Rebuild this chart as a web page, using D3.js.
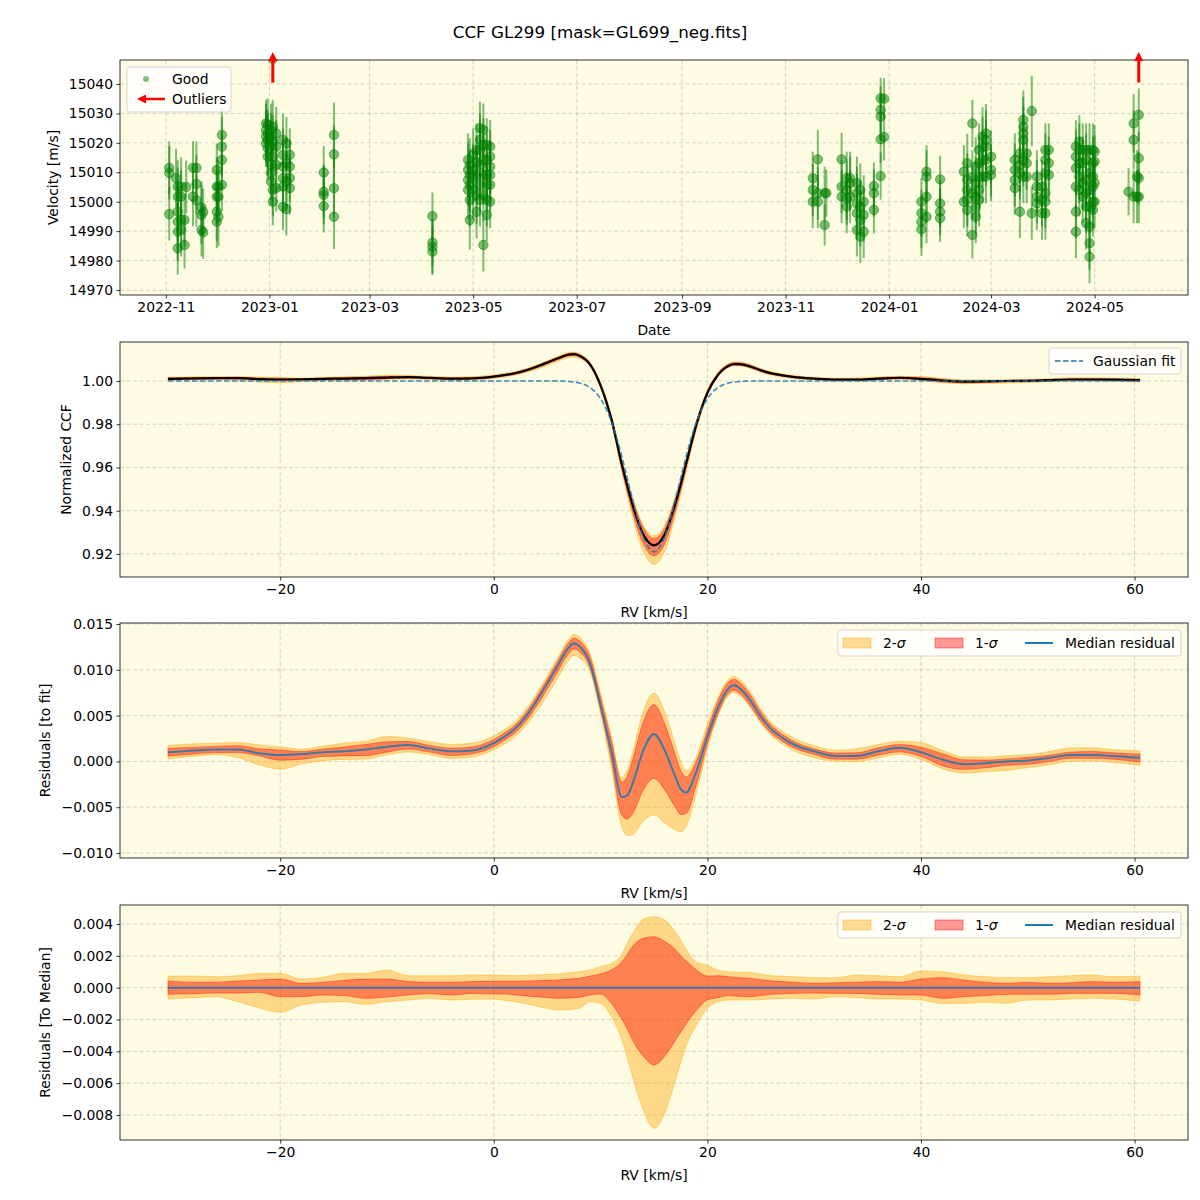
<!DOCTYPE html>
<html lang="en">
<head>
<meta charset="UTF-8">
<title>CCF GL299</title>
<script src="https://d3js.org/d3.v7.min.js"></script>
<style>
    html, body { margin: 0; background: #fff; }
    svg { font-family: "DejaVu Sans", sans-serif; }
</style>
</head>
<body>
<svg id="svg" width="1200" height="1200"></svg>
<script>
// ---- data ----
// RV time series: [date, velocity m/s, error m/s]
const goodPoints = [
    ["2022-11-03", 15011.5, 9], ["2022-11-03", 15009.8, 9], ["2022-11-03", 14995.8, 9],
    ["2022-11-07", 15008.0, 10],
    ["2022-11-08", 15005.1, 9], ["2022-11-08", 15001.7, 10], ["2022-11-08", 14996.6, 10], ["2022-11-08", 14993.2, 11], ["2022-11-08", 14989.8, 10], ["2022-11-08", 14984.2, 9],
    ["2022-11-10", 15005.1, 10], ["2022-11-10", 15001.7, 9], ["2022-11-10", 14993.8, 10], ["2022-11-10", 14990.4, 9],
    ["2022-11-12", 14993.8, 9], ["2022-11-12", 14985.3, 8], ["2022-11-13", 15005.0, 9],
    ["2022-11-17", 15011.5, 9], ["2022-11-17", 15001.7, 10], ["2022-11-19", 15011.5, 9], ["2022-11-19", 15006.0, 10], ["2022-11-19", 15000.5, 9],
    ["2022-11-22", 14998.0, 9], ["2022-11-22", 14995.5, 10], ["2022-11-22", 14990.4, 9], ["2022-11-23", 14989.6, 9], ["2022-11-23", 14996.5, 8],
    ["2022-12-01", 15010.8, 9], ["2022-12-01", 15005.1, 10], ["2022-12-01", 15001.7, 9], ["2022-12-01", 14996.6, 10], ["2022-12-01", 14993.2, 9],
    ["2022-12-02", 15005.0, 9], ["2022-12-02", 15001.7, 9], ["2022-12-02", 14994.9, 10],
    ["2022-12-04", 15022.7, 9], ["2022-12-04", 15018.7, 10], ["2022-12-04", 15014.2, 9], ["2022-12-04", 15005.7, 9],
    ["2022-12-30", 15026.6, 8], ["2022-12-30", 15024.4, 9], ["2022-12-30", 15022.1, 9], ["2022-12-30", 15019.8, 8],
    ["2022-12-31", 15026.1, 9], ["2022-12-31", 15023.2, 8], ["2022-12-31", 15021.0, 9], ["2022-12-31", 15018.2, 9], ["2022-12-31", 15015.3, 8],
    ["2023-01-02", 15024.4, 9], ["2023-01-02", 15022.1, 8], ["2023-01-02", 15018.7, 9], ["2023-01-02", 15012.5, 9], ["2023-01-02", 15009.7, 9], ["2023-01-02", 15006.8, 8],
    ["2023-01-03", 15025.5, 9], ["2023-01-03", 15020.4, 9], ["2023-01-03", 15015.3, 8], ["2023-01-03", 15004.0, 9], ["2023-01-03", 15000.0, 8], ["2023-01-03", 15048.5, 8],
    ["2023-01-05", 15023.2, 9], ["2023-01-05", 15018.7, 9], ["2023-01-05", 15012.5, 9], ["2023-01-05", 15004.6, 8],
    ["2023-01-09", 15021.0, 9], ["2023-01-09", 15015.9, 9], ["2023-01-09", 15011.9, 8], ["2023-01-09", 15008.0, 9], ["2023-01-09", 15005.1, 9], ["2023-01-09", 14998.3, 8],
    ["2023-01-11", 15019.8, 9], ["2023-01-11", 15013.0, 9], ["2023-01-11", 15007.0, 9], ["2023-01-11", 14997.5, 9],
    ["2023-01-13", 15015.9, 9], ["2023-01-13", 15011.9, 9], ["2023-01-13", 15008.0, 8], ["2023-01-13", 15004.6, 9],
    ["2023-02-02", 15009.9, 9], ["2023-02-02", 15003.4, 9], ["2023-02-02", 15002.3, 10], ["2023-02-02", 14998.5, 9],
    ["2023-02-08", 15022.7, 11], ["2023-02-08", 15016.1, 10], ["2023-02-08", 15004.6, 10], ["2023-02-08", 14994.9, 11],
    ["2023-04-07", 14995.1, 8], ["2023-04-07", 14986.1, 8], ["2023-04-07", 14984.7, 9], ["2023-04-07", 14983.0, 8],
    ["2023-04-28", 15014.2, 9], ["2023-04-28", 15010.8, 9], ["2023-04-28", 15007.4, 9], ["2023-04-28", 15004.0, 10],
    ["2023-04-29", 15012.5, 9], ["2023-04-29", 15009.1, 9], ["2023-04-29", 15005.7, 9], ["2023-04-29", 15000.6, 9], ["2023-04-29", 14993.8, 10],
    ["2023-05-01", 15015.9, 9], ["2023-05-01", 15010.8, 9], ["2023-05-01", 15008.0, 9], ["2023-05-01", 15004.0, 10],
    ["2023-05-03", 15017.6, 9], ["2023-05-03", 15013.5, 9], ["2023-05-03", 15009.1, 9], ["2023-05-03", 15002.3, 10], ["2023-05-03", 14996.5, 9],
    ["2023-05-05", 15025.0, 9], ["2023-05-05", 15021.0, 9], ["2023-05-05", 15017.6, 10], ["2023-05-05", 15012.5, 9], ["2023-05-05", 15005.7, 9], ["2023-05-05", 15000.6, 9],
    ["2023-05-07", 15024.4, 9], ["2023-05-07", 15019.3, 9], ["2023-05-07", 15014.2, 9], ["2023-05-07", 15009.1, 10], ["2023-05-07", 15002.3, 9], ["2023-05-07", 14985.3, 9],
    ["2023-05-09", 15019.3, 9], ["2023-05-09", 15014.2, 9], ["2023-05-09", 15009.1, 9], ["2023-05-09", 15005.7, 9], ["2023-05-09", 15000.6, 9], ["2023-05-09", 14995.5, 9],
    ["2023-05-11", 15018.7, 9], ["2023-05-11", 15015.3, 9], ["2023-05-11", 15011.9, 9], ["2023-05-11", 15009.1, 9], ["2023-05-11", 15005.7, 9], ["2023-05-11", 15000.0, 9],
    ["2023-11-17", 15008.0, 9], ["2023-11-17", 15004.0, 9], ["2023-11-17", 15000.0, 9],
    ["2023-11-20", 15014.4, 10], ["2023-11-20", 15002.9, 9], ["2023-11-20", 15000.0, 9],
    ["2023-11-24", 15002.9, 9], ["2023-11-24", 14992.1, 7], ["2023-11-25", 15002.9, 8],
    ["2023-12-04", 15014.4, 9], ["2023-12-04", 15005.1, 9], ["2023-12-04", 15001.7, 9],
    ["2023-12-07", 15008.0, 9], ["2023-12-07", 15004.0, 10], ["2023-12-07", 15001.2, 9], ["2023-12-07", 14998.3, 9],
    ["2023-12-09", 15008.0, 9], ["2023-12-09", 15006.3, 9], ["2023-12-09", 15001.7, 9],
    ["2023-12-13", 15006.3, 9], ["2023-12-13", 15002.9, 9], ["2023-12-13", 14999.4, 10], ["2023-12-13", 14996.1, 9], ["2023-12-13", 14990.4, 9],
    ["2023-12-15", 15004.0, 9], ["2023-12-15", 14998.3, 9], ["2023-12-15", 14993.8, 9], ["2023-12-15", 14988.1, 9],
    ["2023-12-17", 15000.0, 9], ["2023-12-17", 14995.5, 9], ["2023-12-17", 14989.8, 9],
    ["2023-12-23", 15005.3, 8], ["2023-12-23", 15002.9, 8], ["2023-12-23", 14997.2, 8],
    ["2023-12-27", 15035.1, 7], ["2023-12-27", 15031.2, 8], ["2023-12-27", 15028.9, 8], ["2023-12-27", 15021.2, 8], ["2023-12-27", 15008.7, 8],
    ["2023-12-29", 15035.0, 7], ["2023-12-29", 15022.0, 8],
    ["2024-01-20", 15000.0, 8], ["2024-01-20", 14996.1, 8], ["2024-01-20", 14993.2, 9], ["2024-01-20", 14990.6, 9],
    ["2024-01-23", 15010.2, 9], ["2024-01-23", 15008.5, 9], ["2024-01-23", 15001.7, 9], ["2024-01-23", 14994.9, 9],
    ["2024-01-31", 15007.6, 8], ["2024-01-31", 14999.4, 8], ["2024-01-31", 14996.6, 8], ["2024-01-31", 14994.4, 8],
    ["2024-02-14", 15010.2, 9], ["2024-02-14", 15000.0, 9],
    ["2024-02-16", 15013.1, 10], ["2024-02-16", 15007.4, 9], ["2024-02-16", 15004.0, 9], ["2024-02-16", 15000.6, 9], ["2024-02-16", 14997.2, 9],
    ["2024-02-19", 15026.6, 8], ["2024-02-19", 15008.5, 9], ["2024-02-19", 15002.9, 9], ["2024-02-19", 14988.7, 8],
    ["2024-02-21", 15011.9, 10], ["2024-02-21", 15006.3, 9], ["2024-02-21", 15001.7, 9], ["2024-02-21", 14998.3, 9], ["2024-02-21", 14994.9, 9],
    ["2024-02-23", 15017.6, 9], ["2024-02-23", 15013.1, 9], ["2024-02-23", 15008.5, 9], ["2024-02-23", 15004.0, 9], ["2024-02-23", 15000.6, 9],
    ["2024-02-25", 15022.1, 10], ["2024-02-25", 15018.7, 10], ["2024-02-25", 15014.2, 9], ["2024-02-25", 15008.5, 9],
    ["2024-02-27", 15023.2, 10], ["2024-02-27", 15021.0, 10], ["2024-02-27", 15018.7, 9], ["2024-02-27", 15014.2, 9], ["2024-02-27", 15008.5, 9],
    ["2024-03-01", 15015.3, 9], ["2024-03-01", 15010.8, 9], ["2024-03-01", 15009.1, 9],
    ["2024-03-15", 15014.2, 9], ["2024-03-15", 15010.8, 9], ["2024-03-15", 15007.4, 9], ["2024-03-15", 15004.6, 9],
    ["2024-03-18", 15016.4, 10], ["2024-03-18", 15012.5, 9], ["2024-03-18", 15009.7, 9], ["2024-03-18", 14996.6, 9],
    ["2024-03-20", 15027.8, 10], ["2024-03-20", 15025.5, 10], ["2024-03-20", 15023.2, 9], ["2024-03-20", 15021.0, 9], ["2024-03-20", 15014.2, 9], ["2024-03-20", 15008.5, 9],
    ["2024-03-22", 15016.4, 9], ["2024-03-22", 15013.1, 9], ["2024-03-22", 15008.5, 9],
    ["2024-03-25", 15030.8, 12], ["2024-03-25", 14996.1, 9],
    ["2024-03-28", 15008.5, 9], ["2024-03-28", 15005.1, 9], ["2024-03-28", 15001.7, 9], ["2024-03-28", 14999.4, 9],
    ["2024-03-31", 15005.1, 9], ["2024-03-31", 15000.6, 9], ["2024-03-31", 14996.1, 9],
    ["2024-04-02", 15017.6, 9], ["2024-04-02", 15014.2, 9], ["2024-04-02", 15009.7, 9], ["2024-04-02", 15002.9, 9], ["2024-04-02", 15000.0, 9], ["2024-04-02", 14996.1, 9],
    ["2024-04-04", 15017.6, 9], ["2024-04-04", 15013.1, 9], ["2024-04-04", 15009.1, 9],
    ["2024-04-20", 15018.7, 9], ["2024-04-20", 15015.3, 9], ["2024-04-20", 15011.4, 9], ["2024-04-20", 15005.1, 9], ["2024-04-20", 14996.6, 9], ["2024-04-20", 14989.8, 9],
    ["2024-04-22", 15020.4, 9], ["2024-04-22", 15017.6, 9], ["2024-04-22", 15013.1, 9], ["2024-04-22", 15008.5, 9], ["2024-04-22", 15004.0, 9],
    ["2024-04-24", 15017.6, 9], ["2024-04-24", 15013.1, 9], ["2024-04-24", 15006.3, 9], ["2024-04-24", 15001.7, 9],
    ["2024-04-26", 15017.6, 9], ["2024-04-26", 15014.2, 9], ["2024-04-26", 15007.4, 9], ["2024-04-26", 15002.9, 9], ["2024-04-26", 14998.3, 9], ["2024-04-26", 14992.7, 9],
    ["2024-04-28", 15017.6, 9], ["2024-04-28", 15009.7, 9], ["2024-04-28", 15004.0, 9], ["2024-04-28", 14998.3, 9], ["2024-04-28", 14991.5, 9], ["2024-04-28", 14985.9, 9], ["2024-04-28", 14981.3, 9],
    ["2024-04-30", 15017.6, 9], ["2024-04-30", 15013.1, 9], ["2024-04-30", 15008.5, 9], ["2024-04-30", 15005.1, 9], ["2024-04-30", 15000.0, 9], ["2024-04-30", 14997.2, 9],
    ["2024-05-01", 15017.0, 9], ["2024-05-01", 15013.6, 9], ["2024-05-01", 15006.3, 9], ["2024-05-01", 15000.0, 9],
    ["2024-05-21", 15003.4, 8],
    ["2024-05-24", 15026.6, 10], ["2024-05-24", 15021.0, 10], ["2024-05-24", 15001.7, 9],
    ["2024-05-26", 15008.5, 9], ["2024-05-26", 15001.7, 9],
    ["2024-05-27", 15029.5, 9], ["2024-05-27", 15014.8, 9], ["2024-05-27", 15008.0, 9], ["2024-05-27", 15001.7, 9]
];
const outlierDates = ["2023-01-03", "2024-05-27"];
const dateTicks = ["2022-11", "2023-01", "2023-03", "2023-05", "2023-07", "2023-09",
                   "2023-11", "2024-01", "2024-03", "2024-05"];

// CCF profile grid (km/s)
const rv = [-30.5, -28, -26, -24, -22, -20, -18, -16, -14, -12, -10, -8, -6, -4, -2, 0,
    1, 2, 3, 4, 5, 6, 7, 7.5, 8, 9, 10, 11, 12, 12.5, 13, 14, 15, 16, 17, 17.5, 18, 19, 20,
    21, 22, 22.5, 23, 24, 25, 26, 27, 28, 30, 32, 34, 36, 38, 40, 42, 44, 46, 48, 50, 52,
    54, 56, 58, 60.5];
// gaussian fit to the CCF
const gaussFit = [1, 1, 1, 1, 1, 1, 1, 1, 1, 1, 1, 1, 1, 1, 1, 1,
    1, 1, 1, 1, 1, 1, 0.9998, 0.9995, 0.9991, 0.9970, 0.9918, 0.9814, 0.9650, 0.9551, 0.9450,
    0.9278, 0.9210, 0.9278, 0.9450, 0.9551, 0.9650, 0.9814, 0.9918, 0.9970, 0.9991, 0.9995,
    0.9998, 1, 1, 1, 1, 1, 1, 1, 1, 1, 1, 1, 1, 1, 1, 1, 1, 1, 1, 1, 1, 1];
// median residual (CCF - fit)
const medianResid = [0.0010, 0.0012, 0.0013, 0.0013, 0.0009, 0.0007, 0.0008, 0.0010, 0.0011,
    0.0013, 0.0016, 0.0018, 0.0014, 0.0011, 0.0012, 0.0020,
    0.0027, 0.0036, 0.0049, 0.0066, 0.0085, 0.0105, 0.0124, 0.0129, 0.0126, 0.0107, 0.0061,
    0.0012, -0.0039, -0.0037, -0.0024, 0.0012, 0.0030, 0.0012, -0.0017, -0.0030, -0.0034,
    -0.0010, 0.0027, 0.0059, 0.0080, 0.0083, 0.0080, 0.0067, 0.0049, 0.0035, 0.0026, 0.0019,
    0.0011, 0.0006, 0.0006, 0.0011, 0.0015, 0.0010, 0.0002, -0.0003, -0.0002, 0.0000, 0.0001,
    0.0004, 0.0007, 0.0007, 0.0006, 0.0004];
// dispersion relative to the median
const sig1Hi = [0.00042, 0.00034, 0.00034, 0.00042, 0.00048, 0.00054, 0.00027, 0.00034, 0.00046,
    0.00054, 0.00054, 0.00038, 0.00034, 0.00034, 0.00038, 0.00040,
    0.00040, 0.00040, 0.00042, 0.00044, 0.00046, 0.00048, 0.00054, 0.00056, 0.00059, 0.00073,
    0.00086, 0.00111, 0.00163, 0.0021, 0.0026, 0.0031, 0.0032, 0.0029, 0.0024, 0.0020, 0.0017,
    0.0011, 0.00073, 0.00075, 0.00069, 0.00066, 0.00063, 0.00059, 0.00050, 0.00042, 0.00038,
    0.00034, 0.00027, 0.00031, 0.00034, 0.00038, 0.00034, 0.00054, 0.00063, 0.00048, 0.00034,
    0.00027, 0.00034, 0.00027, 0.00031, 0.00038, 0.00034, 0.00038];
const sig1Lo = [-0.00042, -0.00038, -0.00034, -0.00034, -0.00029, -0.00057, -0.00057, -0.00046,
    -0.00050, -0.00067, -0.00059, -0.00046, -0.00038, -0.00046, -0.00036, -0.00040,
    -0.00040, -0.00046, -0.00052, -0.00057, -0.00062, -0.00067, -0.00065, -0.00063, -0.00061,
    -0.00046, -0.00040, -0.00098, -0.0020, -0.0026, -0.0033, -0.0043, -0.00486, -0.0043, -0.0033,
    -0.0028, -0.0023, -0.0014, -0.00077, -0.00063, -0.00050, -0.00052, -0.00054, -0.00057,
    -0.00050, -0.00042, -0.00039, -0.00036, -0.00034, -0.00036, -0.00036, -0.00042, -0.00046,
    -0.00046, -0.00067, -0.00057, -0.00050, -0.00042, -0.00042, -0.00042, -0.00036, -0.00036,
    -0.00036, -0.00046];
const sig2Hi = [0.00073, 0.00073, 0.00069, 0.00075, 0.00090, 0.00090, 0.00054, 0.00065, 0.00090,
    0.00090, 0.00111, 0.00075, 0.00075, 0.00075, 0.00080, 0.00080,
    0.00078, 0.00075, 0.00078, 0.00080, 0.00083, 0.00086, 0.00094, 0.00097, 0.00100, 0.00111,
    0.00132, 0.00153, 0.0021, 0.0028, 0.0034, 0.0043, 0.00446, 0.00425, 0.0035, 0.0030, 0.0024,
    0.0016, 0.0014, 0.0011, 0.0010, 0.00098, 0.00097, 0.00096, 0.00085, 0.00075, 0.00072,
    0.00069, 0.00063, 0.00063, 0.00080, 0.00075, 0.00069, 0.00105, 0.00100, 0.00080, 0.00069,
    0.00063, 0.00063, 0.00069, 0.00075, 0.00080, 0.00069, 0.00073];
const sig2Lo = [-0.00071, -0.00063, -0.00057, -0.00088, -0.00126, -0.00155, -0.00109, -0.00092,
    -0.00088, -0.00105, -0.00088, -0.00078, -0.00067, -0.00078, -0.00073, -0.00072,
    -0.00080, -0.00088, -0.00100, -0.00115, -0.00130, -0.00140, -0.00138, -0.00134, -0.00130,
    -0.00088, -0.00100, -0.0018, -0.0033, -0.0044, -0.0056, -0.0077, -0.00884, -0.0079, -0.0058,
    -0.0047, -0.0037, -0.0023, -0.0013, -0.00088, -0.00078, -0.00078, -0.00078, -0.00078,
    -0.00075, -0.00071, -0.00069, -0.00067, -0.00071, -0.00057, -0.00063, -0.00071, -0.00071,
    -0.00078, -0.00100, -0.00098, -0.00092, -0.00098, -0.00078, -0.00078, -0.00071, -0.00067,
    -0.00071, -0.00084];

// ---- layout ----
const svg = d3.select("#svg");
const left = 120, right = 1188, ph = 235;
const tops = [60, 342, 623, 905];
const bg = "#fdfbe1";
const green = "#008000";
const c0 = "#1f77b4";
const fontSize = 13.9;
const idx = d3.range(rv.length);
const ccf = idx.map(i => gaussFit[i] + medianResid[i]);

svg.append("text").attr("x", 600).attr("y", 38).attr("text-anchor", "middle")
    .attr("font-size", 16.7).text("CCF GL299 [mask=GL699_neg.fits]");

function panel(k) {
    const top = tops[k];
    const g = svg.append("g");
    g.append("rect").attr("x", left).attr("y", top).attr("width", right - left).attr("height", ph)
        .attr("fill", bg);
    svg.append("clipPath").attr("id", "clip" + k).append("rect")
        .attr("x", left).attr("y", top).attr("width", right - left).attr("height", ph);
    return g;
}

function grid(g, k, xVals, xScale, yVals, yScale) {
    const top = tops[k];
    const gg = g.append("g").attr("stroke", "#b0b0b0").attr("stroke-opacity", 0.6)
        .attr("stroke-dasharray", "4,2.5").attr("stroke-width", 0.9);
    xVals.forEach(v => gg.append("line").attr("x1", xScale(v)).attr("x2", xScale(v))
        .attr("y1", top).attr("y2", top + ph));
    yVals.forEach(v => gg.append("line").attr("x1", left).attr("x2", right)
        .attr("y1", yScale(v)).attr("y2", yScale(v)));
}

function axes(g, k, xScale, xVals, xFmt, yScale, yVals, yFmt, xLabel, yLabel, yLabelX) {
    const top = tops[k];
    const ax = g.append("g").attr("transform", `translate(0,${top + ph})`)
        .call(d3.axisBottom(xScale).tickValues(xVals).tickFormat(xFmt).tickSize(3.5).tickPadding(3.5));
    const ay = g.append("g").attr("transform", `translate(${left},0)`)
        .call(d3.axisLeft(yScale).tickValues(yVals).tickFormat(yFmt).tickSize(3.5).tickPadding(3.5));
    [ax, ay].forEach(a => {
        a.select(".domain").remove();
        a.selectAll("text").attr("font-size", fontSize).attr("font-family", "DejaVu Sans").attr("fill", "#000");
        a.selectAll("line").attr("stroke", "#000").attr("stroke-width", 0.8);
    });
    g.append("rect").attr("x", left).attr("y", top).attr("width", right - left).attr("height", ph)
        .attr("fill", "none").attr("stroke", "#000").attr("stroke-width", 0.8);
    g.append("text").attr("x", (left + right) / 2).attr("y", top + ph + 40)
        .attr("text-anchor", "middle").attr("font-size", fontSize).text(xLabel);
    g.append("text").attr("transform", `translate(${yLabelX},${top + ph / 2}) rotate(-90)`)
        .attr("text-anchor", "middle").attr("dy", "0.35em").attr("font-size", fontSize).text(yLabel);
}

function legendBox(g, x, y, w, h) {
    g.append("rect").attr("x", x).attr("y", y).attr("width", w).attr("height", h).attr("rx", 3)
        .attr("fill", "#fff").attr("fill-opacity", 0.8).attr("stroke", "#cccccc").attr("stroke-opacity", 0.8);
}

// ---- panel 1: velocities ----
const parse = d3.utcParse("%Y-%m-%d");
const xDate = d3.scaleUtc().domain([parse("2022-10-05"), parse("2024-06-25")]).range([left, right]);
const yVel = d3.scaleLinear().domain([14968.3, 15048.15]).range([tops[0] + ph, tops[0]]);
const velTicks = d3.range(14970, 15041, 10);
const dTicks = dateTicks.map(d => d3.utcParse("%Y-%m")(d));
const g1 = panel(0);
grid(g1, 0, dTicks, xDate, velTicks, yVel);
const p1 = g1.append("g").attr("clip-path", "url(#clip0)");
p1.selectAll("line.err").data(goodPoints).join("line").attr("class", "err")
    .attr("x1", d => xDate(parse(d[0]))).attr("x2", d => xDate(parse(d[0])))
    .attr("y1", d => yVel(d[1] - d[2])).attr("y2", d => yVel(d[1] + d[2]))
    .attr("stroke", green).attr("stroke-opacity", 0.5).attr("stroke-width", 2);
p1.selectAll("circle").data(goodPoints).join("circle")
    .attr("cx", d => xDate(parse(d[0]))).attr("cy", d => yVel(d[1])).attr("r", 4.7)
    .attr("fill", green).attr("fill-opacity", 0.5)
    .attr("stroke", green).attr("stroke-opacity", 0.5).attr("stroke-width", 1);

function arrow(g, x, y0, y1, x1) {
    // vertical arrow from y0 up to tip y1, or horizontal to tip x1
    if (x1 === undefined) {
        g.append("line").attr("x1", x).attr("x2", x).attr("y1", y0).attr("y2", y1 + 8)
            .attr("stroke", "red").attr("stroke-width", 3);
        g.append("path").attr("d", `M${x - 4.5},${y1 + 9}L${x},${y1}L${x + 4.5},${y1 + 9}Z`).attr("fill", "red");
    } else {
        g.append("line").attr("x1", x).attr("x2", x1 + 8).attr("y1", y0).attr("y2", y0)
            .attr("stroke", "red").attr("stroke-width", 2.5);
        g.append("path").attr("d", `M${x1 + 9},${y0 - 4.5}L${x1},${y0}L${x1 + 9},${y0 + 4.5}Z`).attr("fill", "red");
    }
}
outlierDates.forEach(d => arrow(svg, xDate(parse(d)), yVel(15040.5), tops[0] - 8));
axes(g1, 0, xDate, dTicks, d3.utcFormat("%Y-%m"), yVel, velTicks, d3.format("d"),
    "Date", "Velocity [m/s]", 53);
legendBox(g1, 127, 67, 104, 45);
g1.append("circle").attr("cx", 146).attr("cy", 79).attr("r", 3).attr("fill", green).attr("fill-opacity", 0.5);
g1.append("text").attr("x", 172).attr("y", 79).attr("dy", "0.35em").attr("font-size", fontSize).text("Good");
arrow(g1, 165, 99, 0, 137);
g1.append("text").attr("x", 172).attr("y", 99).attr("dy", "0.35em").attr("font-size", fontSize).text("Outliers");

// ---- shared RV axis ----
const xRV = d3.scaleLinear().domain([-35, 65]).range([left, right]);
const rvTicks = [-20, 0, 20, 40, 60];

function bands(g, yScale, base) {
    const area = (lo, hi) => d3.area().curve(d3.curveMonotoneX)
        .x(i => xRV(rv[i])).y0(i => yScale(base[i] + lo[i])).y1(i => yScale(base[i] + hi[i]));
    g.append("path").attr("d", area(sig2Lo, sig2Hi)(idx))
        .attr("fill", "orange").attr("fill-opacity", 0.4)
        .attr("stroke", "orange").attr("stroke-opacity", 0.4).attr("stroke-width", 1);
    g.append("path").attr("d", area(sig1Lo, sig1Hi)(idx))
        .attr("fill", "red").attr("fill-opacity", 0.4)
        .attr("stroke", "red").attr("stroke-opacity", 0.4).attr("stroke-width", 1);
}

function sigmaLegend(g, top) {
    const y = top + 7, cy = top + 20;
    legendBox(g, 838, y, 343, 26);
    g.append("rect").attr("x", 843).attr("y", cy - 5).attr("width", 28).attr("height", 10)
        .attr("fill", "orange").attr("fill-opacity", 0.4).attr("stroke", "orange").attr("stroke-opacity", 0.4);
    g.append("rect").attr("x", 935).attr("y", cy - 5).attr("width", 28).attr("height", 10)
        .attr("fill", "red").attr("fill-opacity", 0.4).attr("stroke", "red").attr("stroke-opacity", 0.4);
    g.append("line").attr("x1", 1025).attr("x2", 1053).attr("y1", cy).attr("y2", cy)
        .attr("stroke", c0).attr("stroke-width", 2);
    [["2-", 883], ["1-", 975]].forEach(([t, x]) => {
        const tx = g.append("text").attr("x", x).attr("y", cy).attr("dy", "0.35em").attr("font-size", fontSize);
        tx.append("tspan").text(t);
        tx.append("tspan").attr("font-style", "italic").text("σ");
    });
    g.append("text").attr("x", 1065).attr("y", cy).attr("dy", "0.35em").attr("font-size", fontSize)
        .text("Median residual");
}

// ---- panel 2: CCF ----
const yCCF = d3.scaleLinear().domain([0.90936, 1.01803]).range([tops[1] + ph, tops[1]]);
const ccfTicks = [0.92, 0.94, 0.96, 0.98, 1.00];
const g2 = panel(1);
grid(g2, 1, rvTicks, xRV, ccfTicks, yCCF);
const p2 = g2.append("g").attr("clip-path", "url(#clip1)");
bands(p2, yCCF, ccf);
p2.append("path").attr("d", d3.line().curve(d3.curveMonotoneX).x(i => xRV(rv[i])).y(i => yCCF(ccf[i]))(idx))
    .attr("fill", "none").attr("stroke", "#000").attr("stroke-width", 2.2);
p2.append("path").attr("d", d3.line().curve(d3.curveMonotoneX).x(i => xRV(rv[i])).y(i => yCCF(gaussFit[i]))(idx))
    .attr("fill", "none").attr("stroke", c0).attr("stroke-width", 1.6).attr("stroke-opacity", 0.85)
    .attr("stroke-dasharray", "5.5,2.5");
axes(g2, 1, xRV, rvTicks, d3.format("d"), yCCF, ccfTicks, d3.format(".2f"),
    "RV [km/s]", "Normalized CCF", 66);
legendBox(g2, 1049, 348, 132, 26);
g2.append("line").attr("x1", 1055).attr("x2", 1083).attr("y1", 361).attr("y2", 361)
    .attr("stroke", c0).attr("stroke-width", 1.6).attr("stroke-dasharray", "5.5,2.5");
g2.append("text").attr("x", 1093).attr("y", 361).attr("dy", "0.35em").attr("font-size", fontSize).text("Gaussian fit");

// ---- panel 3: residuals to fit ----
const yRes = d3.scaleLinear().domain([-0.010546, 0.015109]).range([tops[2] + ph, tops[2]]);
const resTicks = [-0.010, -0.005, 0, 0.005, 0.010, 0.015];
const g3 = panel(2);
grid(g3, 2, rvTicks, xRV, resTicks, yRes);
const p3 = g3.append("g").attr("clip-path", "url(#clip2)");
bands(p3, yRes, medianResid);
p3.append("path").attr("d", d3.line().curve(d3.curveMonotoneX).x(i => xRV(rv[i])).y(i => yRes(medianResid[i]))(idx))
    .attr("fill", "none").attr("stroke", c0).attr("stroke-width", 2).attr("stroke-opacity", 0.85);
axes(g3, 2, xRV, rvTicks, d3.format("d"), yRes, resTicks, d3.format(".3f"),
    "RV [km/s]", "Residuals [to fit]", 45);
sigmaLegend(g3, tops[2]);

// ---- panel 4: residuals to median ----
const yMed = d3.scaleLinear().domain([-0.009571, 0.005193]).range([tops[3] + ph, tops[3]]);
const medTicks = [-0.008, -0.006, -0.004, -0.002, 0, 0.002, 0.004];
const zero = idx.map(i => medianResid[i] - medianResid[i]);
const g4 = panel(3);
grid(g4, 3, rvTicks, xRV, medTicks, yMed);
const p4 = g4.append("g").attr("clip-path", "url(#clip3)");
bands(p4, yMed, zero);
p4.append("path").attr("d", d3.line().x(i => xRV(rv[i])).y(i => yMed(zero[i]))(idx))
    .attr("fill", "none").attr("stroke", c0).attr("stroke-width", 2).attr("stroke-opacity", 0.85);
axes(g4, 3, xRV, rvTicks, d3.format("d"), yMed, medTicks, d3.format(".3f"),
    "RV [km/s]", "Residuals [To Median]", 45);
sigmaLegend(g4, tops[3]);
</script>
</body>
</html>
